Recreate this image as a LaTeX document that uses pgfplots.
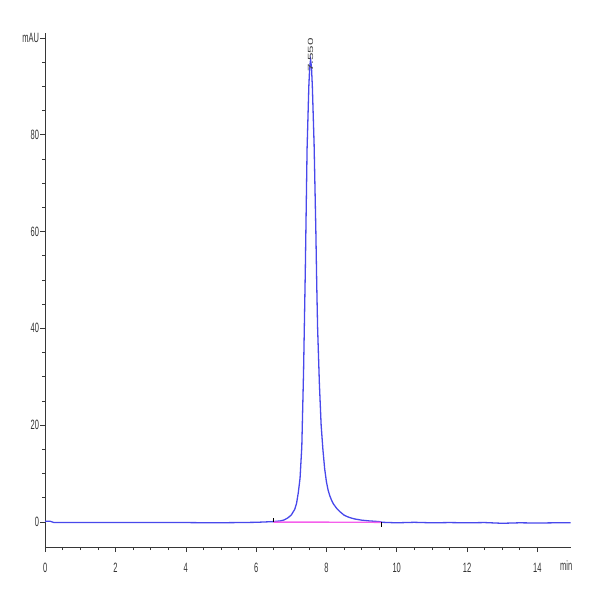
\documentclass[border=0pt]{standalone}
\usepackage{fontspec}
\setmainfont{Liberation Sans}
\usepackage{pgfplots}
\pgfplotsset{compat=1.18}
\definecolor{trace}{RGB}{72,72,235}
\definecolor{basecol}{RGB}{245,95,235}
\definecolor{axisgray}{RGB}{55,55,55}

\begin{document}
\begin{tikzpicture}
\path[use as bounding box] (-45.2pt,-53pt) rectangle (554.8pt,547pt);
\begin{axis}[
  at={(0,0)}, anchor=south west,
  scale only axis, width=525.5pt, height=514pt,
  xmin=0, xmax=14.95, ymin=-5.2, ymax=101.0,
  axis lines=left, axis line style={-, axisgray, line width=0.7pt},
  clip=false,
  xtick={0,2,...,14}, ytick={0,20,...,100},
  yticklabels={0,20,40,60,80,mAU},
  minor x tick num=3, minor y tick num=3,
  tick align=outside, major tick length=5pt, minor tick length=3pt,
  tick style={axisgray, line width=0.6pt},
  /pgf/number format/assume math mode=true,
  tick label style={font=\fontsize{7.5}{8}\selectfont, yscale=1.8, text=black!80},
  yticklabel style={inner sep=1pt},
  xticklabel style={inner sep=2pt, yshift=-4pt},
]
% signal trace
\addplot[trace, line width=1.3pt] coordinates {
(0,0.1) (0.15,0.1) (0.25,-0.15) (1,-0.15) (2,-0.15) (3,-0.15) (4,-0.15)
(4.8,-0.2) (5.5,-0.15) (6.0,-0.1) (6.5,0.05) (6.7,0.2) (6.8,0.4) (6.9,0.8)
(7.0,1.4) (7.1,2.6) (7.15,3.8) (7.2,6.0) (7.25,9.0) (7.3,15.5) (7.35,31)
(7.4,52) (7.45,77) (7.5,90) (7.525,94) (7.55,95.5) (7.575,94) (7.6,90)
(7.65,78) (7.7,60) (7.725,49) (7.75,40) (7.8,28.6) (7.85,20) (7.9,15)
(7.95,11) (8.0,8.3) (8.05,6.5) (8.1,5.3) (8.15,4.4) (8.2,3.7) (8.3,2.7)
(8.4,2.0) (8.5,1.4) (8.6,1.05) (8.7,0.8) (8.8,0.6) (9.0,0.35) (9.2,0.2)
(9.5,0.05) (9.6,-0.1) (10,-0.2) (10.5,-0.1) (11,-0.2) (11.5,-0.15)
(12,-0.2) (12.5,-0.15) (13,-0.3) (13.5,-0.2) (14,-0.25) (14.5,-0.2) (14.95,-0.2)
};
% integration baseline
\addplot[basecol, line width=1.4pt] coordinates {(6.49,-0.05) (9.55,-0.1)};
\addplot[black, line width=0.5pt] coordinates {(6.49,-0.1) (6.49,0.8)};
\addplot[black, line width=0.5pt] coordinates {(9.55,-0.1) (9.55,-1.0)};
\node[font=\fontsize{7.5}{8}\selectfont, rotate=90, xscale=1.8, anchor=west,
  text=black!75, inner sep=1pt] at (axis cs:7.55,92.5) {7.550};
\node[font=\fontsize{7.5}{8}\selectfont, yscale=1.8, anchor=north,
  text=black!80, inner sep=2pt] at (axis cs:14.82,-5.2) [yshift=-5.5pt] {min};
\end{axis}
\end{tikzpicture}
\end{document}
